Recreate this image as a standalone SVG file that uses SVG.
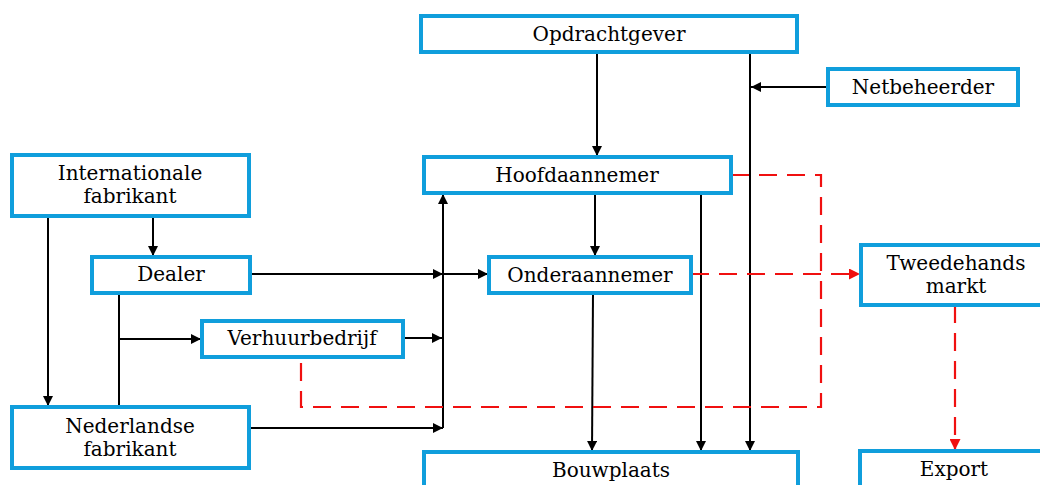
<svg xmlns="http://www.w3.org/2000/svg" width="1040" height="485" viewBox="0 0 1040 485">
<defs>
<style>
.box{fill:#fff;stroke:#109edc;stroke-width:4}
.t{font-family:"DejaVu Serif","Liberation Serif",serif;font-size:20px;fill:#000;text-anchor:middle}
.c{fill:none;stroke:#000;stroke-width:2}
.r{fill:none;stroke:#f01010;stroke-width:2.2;stroke-dasharray:18 10}
</style>
<marker id="a" viewBox="0 0 10 10" refX="10" refY="5" markerWidth="10" markerHeight="10" markerUnits="userSpaceOnUse" orient="auto"><path d="M0,0L10,5L0,10z" fill="#000"/></marker>
<marker id="ar" viewBox="0 0 10 10" refX="10" refY="5" markerWidth="11" markerHeight="11" markerUnits="userSpaceOnUse" orient="auto"><path d="M0,0L10,5L0,10z" fill="#f01010"/></marker>
</defs>
<rect width="1040" height="485" fill="#fff"/>
<g id="connectors">
<path class="c" d="M597,52V156" marker-end="url(#a)"/>
<path class="c" d="M750,52V451" marker-end="url(#a)"/>
<path class="c" d="M828,87H751" marker-end="url(#a)"/>
<path class="c" d="M595,193V256" marker-end="url(#a)"/>
<path class="c" d="M701,193V451" marker-end="url(#a)"/>
<path class="c" d="M593,293L592,451" marker-end="url(#a)"/>
<path class="c" d="M153,216V256" marker-end="url(#a)"/>
<path class="c" d="M48,216V406" marker-end="url(#a)"/>
<path class="c" d="M250,274H443" marker-end="url(#a)"/>
<path class="c" d="M443,274H488" marker-end="url(#a)"/>
<path class="c" d="M119,293V407"/>
<path class="c" d="M119,339H201" marker-end="url(#a)"/>
<path class="c" d="M400,338H442" marker-end="url(#a)"/>
<path class="c" d="M250,428H443" marker-end="url(#a)"/>
<path class="c" d="M443,428V194" marker-end="url(#a)"/>
<path class="r" d="M731,175H821V407H301V357"/>
<path class="r" d="M691,274H860" marker-end="url(#ar)"/>
<path class="r" d="M955,305V450" marker-end="url(#ar)"/>
</g>
<g id="opdrachtgever"><rect class="box" x="421" y="16" width="376" height="36"/><text class="t" x="609" y="41">Opdrachtgever</text></g>
<g id="netbeheerder"><rect class="box" x="828" y="69" width="190" height="36"/><text class="t" x="923" y="94">Netbeheerder</text></g>
<g id="hoofdaannemer"><rect class="box" x="424" y="157" width="307" height="36"/><text class="t" x="577" y="182">Hoofdaannemer</text></g>
<g id="internationale"><rect class="box" x="12" y="155" width="237" height="61"/><text class="t" x="130" y="180">Internationale</text><text class="t" x="130" y="203">fabrikant</text></g>
<g id="dealer"><rect class="box" x="92" y="257" width="158" height="36"/><text class="t" x="171" y="281">Dealer</text></g>
<g id="onderaannemer"><rect class="box" x="489" y="257" width="202" height="36"/><text class="t" x="590" y="282">Onderaannemer</text></g>
<g id="tweedehands"><rect class="box" x="861" y="245" width="185" height="60"/><text class="t" x="956" y="270">Tweedehands</text><text class="t" x="956" y="293">markt</text></g>
<g id="verhuurbedrijf"><rect class="box" x="202" y="321" width="201" height="36"/><text class="t" x="302" y="345">Verhuurbedrijf</text></g>
<g id="nederlandse"><rect class="box" x="12" y="407" width="237" height="61"/><text class="t" x="130" y="433">Nederlandse</text><text class="t" x="130" y="456">fabrikant</text></g>
<g id="bouwplaats"><rect class="box" x="424" y="452" width="374" height="45"/><text class="t" x="611" y="477">Bouwplaats</text></g>
<g id="export"><rect class="box" x="860" y="451" width="186" height="45"/><text class="t" x="954" y="476">Export</text></g>
</svg>
